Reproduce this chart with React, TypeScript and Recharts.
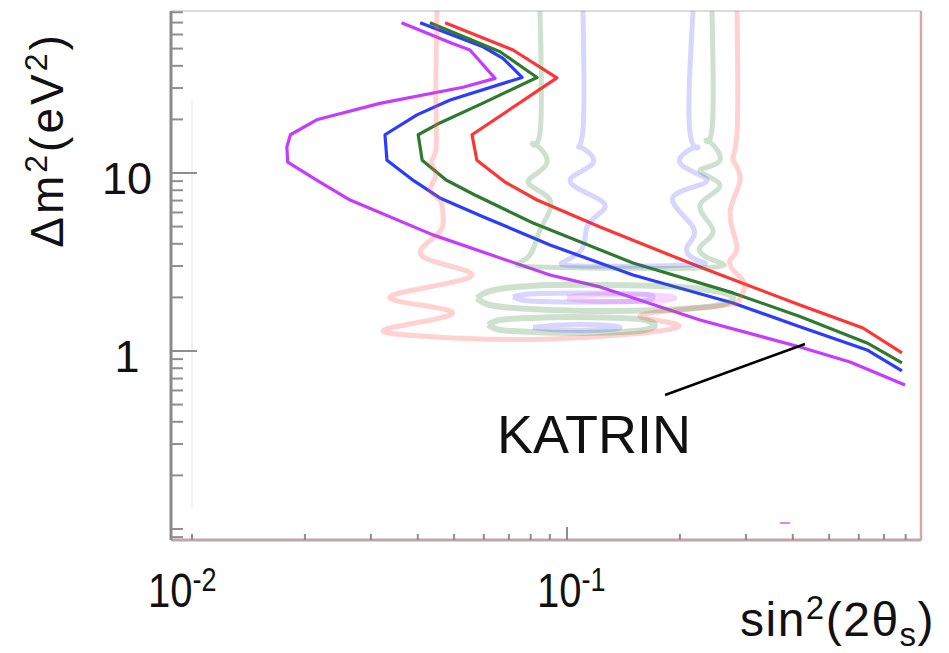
import React from 'react';
import { LineChart, Line, XAxis, YAxis, ReferenceLine, ReferenceDot } from 'recharts';

// Axis ranges (log-log)
const X_DOMAIN: [number, number] = [0.00879, 0.879];
const Y_DOMAIN: [number, number] = [0.0867, 81.3];

const X_TICKS = [0.01, 0.02, 0.03, 0.04, 0.05, 0.06, 0.07, 0.08, 0.09, 0.1, 0.2, 0.3, 0.4, 0.5, 0.6, 0.7, 0.8];
const X_MAJOR = [0.1];
const X_TICK_LABELS = [
  { value: 0.01, base: '10', exp: '-2' },
  { value: 0.1, base: '10', exp: '-1' },
];
const Y_TICKS = [0.09, 0.1, 0.2, 0.3, 0.4, 0.5, 0.6, 0.7, 0.8, 0.9, 1, 2, 3, 4, 5, 6, 7, 8, 9, 10, 20, 30, 40, 50, 60, 70, 80];
const Y_MAJOR = [1, 10];
const Y_TICK_LABELS = [
  { value: 1, text: '1' },
  { value: 10, text: '10' },
];

// Bold exclusion curves [sin^2(2θ), Δm^2]
const MAGENTA = [
  [0.0362, 69.9], [0.0493, 53.6], [0.0551, 49.1], [0.0643, 34.0], [0.0528, 30.3], [0.0317, 24.6],
  [0.0215, 19.9], [0.0183, 16.4], [0.0179, 14.0], [0.018, 11.5], [0.0215, 9.13], [0.0264, 7.05],
  [0.0439, 4.49], [0.0901, 2.67], [0.1225, 2.29], [0.2263, 1.493], [0.418, 1.053], [0.5685, 0.867], [0.797, 0.644],
];
const BLUE = [
  [0.0406, 69.9], [0.0597, 51.2], [0.0675, 44.1], [0.0759, 34.4], [0.0488, 25.7], [0.0398, 21.2],
  [0.0327, 16.4], [0.0331, 11.8], [0.0391, 9.02], [0.0458, 7.24], [0.0597, 5.68], [0.0901, 3.94],
  [0.15, 2.67], [0.277, 1.861], [0.418, 1.369], [0.631, 1.014], [0.782, 0.772],
];
const GREEN = [
  [0.0431, 69.9], [0.0663, 48.0], [0.0832, 34.4], [0.0597, 24.7], [0.0458, 19.1], [0.0401, 16.4],
  [0.0411, 11.8], [0.0476, 9.13], [0.0568, 7.52], [0.0812, 5.24], [0.15, 3.12], [0.277, 2.12],
  [0.418, 1.56], [0.631, 1.109], [0.782, 0.857],
];
const RED = [
  [0.0473, 69.9], [0.0718, 49.1], [0.094, 34.2], [0.0558, 16.4], [0.0575, 11.8], [0.0683, 8.9],
  [0.0832, 7.05], [0.1225, 4.97], [0.2263, 2.96], [0.418, 1.813], [0.6155, 1.346], [0.782, 0.975],
];

// Faint (overlaid) contours
const FAINT_RED = [
  [0.045, 81.3], [0.0447, 25.7], [0.0447, 13.5], [0.0434, 11.4], [0.0447, 9.74], [0.0431, 8.03],
  [0.0458, 7.05], [0.0467, 5.81], [0.045, 4.49], [0.0418, 3.33], [0.0551, 2.6], [0.0337, 2.01],
  [0.0494, 1.656], [0.0337, 1.346], [0.0406, 1.214], [0.0901, 1.168], [0.1977, 1.364], [0.1566, 1.573],
  [0.2512, 1.79], [0.2894, 1.985], [0.2984, 2.35], [0.2805, 2.78], [0.2721, 3.24], [0.284, 3.84],
  [0.2721, 5.96], [0.2894, 9.13], [0.2772, 11.83], [0.284, 16.78], [0.284, 81.3],
];
const FAINT_GREEN = [
  [0.0847, 81.3], [0.0847, 16.8], [0.0812, 14.7], [0.0884, 11.4], [0.0787, 8.9], [0.0901, 7.05],
  [0.0847, 4.78], [0.0782, 3.33], [0.0847, 2.96], [0.2263, 2.93], [0.2451, 3.24], [0.2263, 3.84],
  [0.2451, 4.78], [0.2263, 6.6], [0.2559, 8.5], [0.2263, 10.3], [0.2559, 11.8], [0.2362, 15.3],
  [0.2436, 17.5], [0.2436, 81.3],
];
const FAINT_GREEN_LOOP_HI = [
  [0.0575, 1.985], [0.0623, 2.17], [0.0797, 2.32], [0.1263, 2.35], [0.2001, 2.29], [0.2559, 2.145],
  [0.2772, 1.985], [0.2559, 1.813], [0.2001, 1.722], [0.1263, 1.677], [0.0797, 1.722], [0.0623, 1.813], [0.0575, 1.985],
];
const FAINT_GREEN_LOOP_LO = [
  [0.0616, 1.4], [0.0663, 1.493], [0.0797, 1.532], [0.1025, 1.552], [0.1385, 1.532], [0.1614, 1.493],
  [0.1717, 1.4], [0.1614, 1.312], [0.1385, 1.279], [0.1025, 1.262], [0.0797, 1.279], [0.0663, 1.312], [0.0616, 1.4],
];
const FAINT_BLUE = [
  [0.1103, 81.3], [0.1103, 17.44], [0.1083, 13.99], [0.1173, 11.38], [0.1019, 9.02], [0.1225, 7.05],
  [0.1225, 5.96], [0.1131, 4.97], [0.1103, 3.84], [0.1, 3.24], [0.1083, 3.0], [0.2128, 3.04],
  [0.2222, 3.24], [0.2089, 3.84], [0.2168, 4.97], [0.1918, 7.33], [0.2362, 9.02], [0.2001, 11.38],
  [0.2222, 13.99], [0.2128, 16.78], [0.2168, 81.3],
];
const FAINT_BLUE_LOOP_HI = [
  [0.0718, 2.01], [0.0797, 2.09], [0.1103, 2.12], [0.1566, 2.09], [0.1696, 2.01], [0.1566, 1.909],
  [0.1103, 1.885], [0.0797, 1.909], [0.0718, 2.01],
];
const FAINT_BLUE_LOOP_LO = [
  [0.0812, 1.355], [0.0958, 1.4], [0.1225, 1.4], [0.1385, 1.355], [0.1225, 1.312], [0.0958, 1.312], [0.0812, 1.355],
];
const FAINT_MAGENTA_LOOP = [
  [0.1, 1.985], [0.1152, 2.06], [0.1664, 2.06], [0.1941, 1.985], [0.1664, 1.909], [0.1152, 1.909], [0.1, 1.985],
];
const MAGENTA_DASH = [[0.37, 0.108], [0.393, 0.108]];

// Annotation
const KATRIN_POINTER = [[0.1826, 0.566], [0.4312, 1.095]];
const KATRIN_LABEL = { x: 0.0651, y: 0.267, text: 'KATRIN' };

const FONT = 'Liberation Sans, Arial, sans-serif';
const pts = (a: number[][]) => a.map(([x, y]) => ({ x, y }));
const near = (a: number, b: number) => Math.abs(a - b) < 1e-9;

const XTick = (props: any) => {
  const { x, y, payload } = props;
  const v = payload.value;
  const major = X_MAJOR.some((m) => near(m, v));
  const lbl = X_TICK_LABELS.find((l) => near(l.value, v));
  const dx = lbl && near(lbl.value, 0.01) ? -44 : -30;
  return (
    <g>
      <line x1={x} y1={y} x2={x} y2={y - (major ? 13 : 6)} stroke="#8e8e8e" strokeWidth={2} />
      {lbl && (
        <text transform={`translate(${x + dx},${y + 67}) scale(1,1.2)`} fontFamily={FONT} fill="#111" fontSize={40}>
          <tspan>{lbl.base}</tspan>
          <tspan fontSize={27} dy={-13}>{lbl.exp}</tspan>
        </text>
      )}
    </g>
  );
};

const YTick = (props: any) => {
  const { x, y, payload } = props;
  const v = payload.value;
  const major = Y_MAJOR.some((m) => near(m, v));
  const lbl = Y_TICK_LABELS.find((l) => near(l.value, v));
  return (
    <g>
      <line x1={x} y1={y} x2={x + (major ? 26 : 12)} y2={y} stroke="#8e8e8e" strokeWidth={2} />
      {lbl && (
        <text x={x - 44} y={y + 21} textAnchor="middle" fontFamily={FONT} fontSize={45} fill="#111">
          {lbl.text}
        </text>
      )}
    </g>
  );
};

const YTitle = (props: any) => {
  const vb = props.viewBox || { x: 0, y: 11 };
  const cx = vb.x + 63;
  const cy = vb.y + 129;
  return (
    <text x={cx} y={cy} transform={`rotate(-90 ${cx} ${cy})`} textAnchor="middle" fontFamily={FONT} fontSize={46} fill="#111" letterSpacing={3}>
      <tspan>Δm</tspan>
      <tspan fontSize={32} dy={-16}>2</tspan>
      <tspan dy={16}>(eV</tspan>
      <tspan fontSize={32} dy={-16}>2</tspan>
      <tspan dy={16}>)</tspan>
    </text>
  );
};

const XTitle = (props: any) => {
  const vb = props.viewBox || { x: 171, y: 540, width: 750 };
  const sx = vb.x + vb.width - 181;
  const sy = vb.y + 96;
  return (
    <text x={sx} y={sy} fontFamily={FONT} fontSize={48} fill="#111" letterSpacing={1.5}>
      <tspan>sin</tspan>
      <tspan fontSize={33} dy={-17}>2</tspan>
      <tspan dy={17}>(2θ</tspan>
      <tspan fontSize={33} dy={10}>s</tspan>
      <tspan dy={-10}>)</tspan>
    </text>
  );
};

const KatrinText = (props: any) => (
  <text x={props.cx} y={props.cy} fontFamily={FONT} fontSize={54} fill="#111">
    {KATRIN_LABEL.text}
  </text>
);

const bold = (data: number[][], color: string, key: string) => (
  <Line key={key} data={pts(data)} dataKey="y" stroke={color} strokeWidth={3.2} dot={false} isAnimationActive={false} strokeLinejoin="round" />
);
const faint = (data: number[][], color: string, key: string, w = 5) => (
  <Line key={key} type="natural" data={pts(data)} dataKey="y" stroke={color} strokeWidth={w} dot={false} isAnimationActive={false} strokeLinejoin="round" />
);

export default function App() {
  return (
    <div style={{ position: 'absolute', left: 0, top: 0, width: 949, height: 653, background: '#fff' }}>
      <LineChart width={949} height={653} margin={{ top: 11, right: 28, bottom: 0, left: 0 }}>
        <XAxis
          dataKey="x"
          type="number"
          scale="log"
          domain={X_DOMAIN}
          allowDataOverflow
          ticks={X_TICKS}
          interval={0}
          tick={<XTick />}
          tickLine={false}
          tickSize={0}
          tickMargin={0}
          height={113}
          axisLine={{ stroke: '#c4a4a4', strokeWidth: 3 }}
          label={<XTitle />}
        />
        <YAxis
          type="number"
          scale="log"
          domain={Y_DOMAIN}
          allowDataOverflow
          ticks={Y_TICKS}
          interval={0}
          tick={<YTick />}
          tickLine={false}
          tickSize={0}
          tickMargin={0}
          width={171}
          axisLine={{ stroke: '#8a8a8a', strokeWidth: 3 }}
          label={<YTitle />}
        />
        <ReferenceLine y={Y_DOMAIN[1]} stroke="#dcdcdc" strokeWidth={2} />
        <ReferenceLine x={X_DOMAIN[1]} stroke="#d6a6a6" strokeWidth={2.5} />
        <ReferenceLine segment={[{ x: 0.01, y: 0.13 }, { x: 0.01, y: 26 }]} stroke="#f3f3f3" strokeWidth={2} />
        {bold(MAGENTA, '#c63cff', 'm')}
        {bold(BLUE, '#2b3cff', 'b')}
        {bold(GREEN, '#2f7a30', 'g')}
        {bold(RED, '#ff3535', 'r')}
        {faint(FAINT_RED, 'rgba(255,90,90,0.28)', 'fr')}
        {faint(FAINT_GREEN, 'rgba(60,135,60,0.25)', 'fg')}
        {faint(FAINT_GREEN_LOOP_HI, 'rgba(60,135,60,0.25)', 'fgh', 6)}
        {faint(FAINT_GREEN_LOOP_LO, 'rgba(60,135,60,0.25)', 'fgl', 6)}
        {faint(FAINT_BLUE, 'rgba(70,70,255,0.22)', 'fb')}
        {faint(FAINT_BLUE_LOOP_HI, 'rgba(70,70,255,0.22)', 'fbh')}
        {faint(FAINT_BLUE_LOOP_LO, 'rgba(70,70,255,0.22)', 'fbl')}
        {faint(FAINT_MAGENTA_LOOP, 'rgba(240,100,240,0.28)', 'fm')}
        <Line data={pts(MAGENTA_DASH)} dataKey="y" stroke="rgba(210,80,255,0.7)" strokeWidth={2} dot={false} isAnimationActive={false} />
        <Line data={pts(KATRIN_POINTER)} dataKey="y" stroke="#000" strokeWidth={2.5} dot={false} isAnimationActive={false} />
        <ReferenceDot x={KATRIN_LABEL.x} y={KATRIN_LABEL.y} r={0} shape={<KatrinText />} />
      </LineChart>
    </div>
  );
}
